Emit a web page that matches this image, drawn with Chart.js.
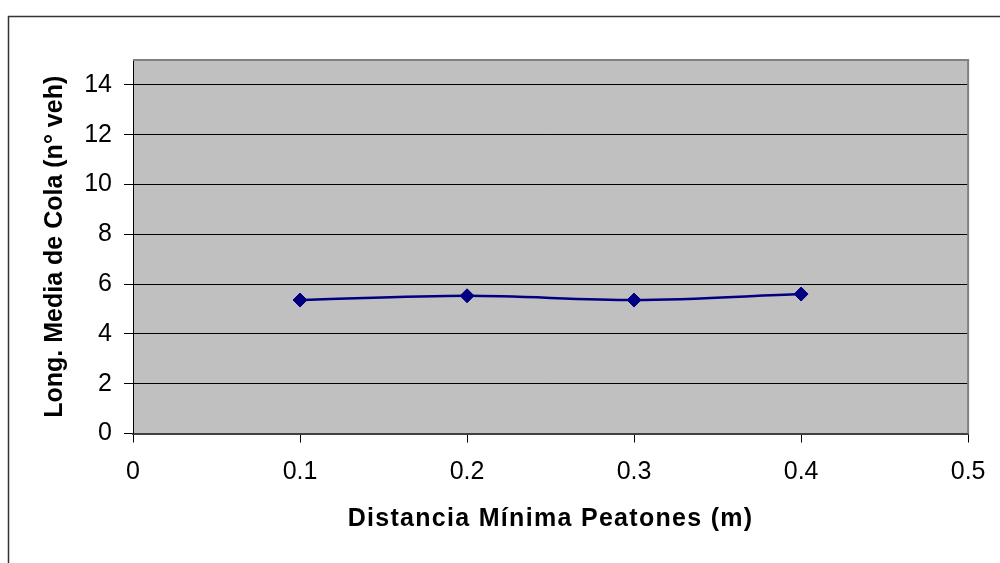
<!DOCTYPE html>
<html>
<head>
<meta charset="utf-8">
<script src="https://cdn.jsdelivr.net/npm/chart.js@4/dist/chart.umd.min.js"></script>
<style>
html,body{margin:0;padding:0;background:#fff;}
canvas{display:block;}
</style>
</head>
<body>
<canvas id="c" width="1000" height="563"></canvas>
<script>
const distances = [0.1, 0.2, 0.3, 0.4];
const queueLength = [5.36, 5.53, 5.36, 5.60];
const yTickValues = [0, 2, 4, 6, 8, 10, 12, 14];
const xTickValues = [0, 0.1, 0.2, 0.3, 0.4, 0.5];
const xTitle = 'Distancia Mínima Peatones (m)';
const yTitle = 'Long. Media de Cola (n° veh)';

const FONT = "'Liberation Sans', Arial, sans-serif";

const frame = {
  id: 'frame',
  beforeDraw(chart) {
    const ctx = chart.ctx, a = chart.chartArea;
    ctx.save();
    ctx.fillStyle = '#fff';
    ctx.fillRect(0, 0, chart.width, chart.height);
    ctx.strokeStyle = '#333';
    ctx.lineWidth = 1.5;
    ctx.strokeRect(8.5, 16.5, 1100, 700);
    ctx.fillStyle = '#C0C0C0';
    ctx.fillRect(a.left, a.top, a.right - a.left, a.bottom - a.top);
    ctx.restore();
  },
  beforeDatasetsDraw(chart) {
    const ctx = chart.ctx, a = chart.chartArea;
    ctx.save();
    ctx.strokeStyle = '#808080';
    ctx.lineWidth = 2;
    ctx.beginPath();
    ctx.moveTo(a.left, a.top);
    ctx.lineTo(a.right, a.top);
    ctx.lineTo(a.right, a.bottom);
    ctx.stroke();
    ctx.restore();
  },
  afterLayout(chart) {
    const s = chart.scales.x;
    if (s && !s._patchedTitle) {
      const orig = s.drawTitle.bind(s);
      s.drawTitle = function () {
        const ctx = this.ctx;
        const prev = ctx.letterSpacing;
        ctx.letterSpacing = '1.3px';
        orig();
        ctx.letterSpacing = prev || '0px';
      };
      s._patchedTitle = true;
    }
  }
};

new Chart(document.getElementById('c'), {
  type: 'line',
  data: {
    datasets: [{
      data: distances.map((d, i) => ({x: d, y: queueLength[i]})),
      borderColor: '#000080',
      backgroundColor: '#000080',
      borderWidth: 2.5,
      pointStyle: 'rectRot',
      pointRadius: 7,
      pointBorderWidth: 1,
      pointBorderColor: '#000080',
      pointBackgroundColor: '#000080',
      cubicInterpolationMode: 'monotone',
      fill: false
    }]
  },
  options: {
    responsive: false,
    animation: false,
    devicePixelRatio: 1,
    layout: {padding: {left: 40, top: 60, right: 29, bottom: 29}},
    plugins: {legend: {display: false}, tooltip: {enabled: false}},
    scales: {
      x: {
        type: 'linear',
        min: 0, max: 0.5,
        afterFit(axis) { axis.height = 100.5; },
        afterBuildTicks(axis) { axis.ticks = xTickValues.map(v => ({value: v})); },
        ticks: {color: '#000', font: {family: FONT, size: 25}, padding: 14.5, maxRotation: 0,
                callback: v => String(Math.round(v * 10) / 10)},
        grid: {drawOnChartArea: false, drawTicks: true, tickLength: 9, color: '#000', lineWidth: 1},
        border: {color: '#404040', width: 2},
        title: {display: true, text: xTitle, color: '#000', font: {family: FONT, size: 25, weight: 'bold'}, padding: 0}
      },
      y: {
        min: 0, max: 15,
        afterFit(axis) { axis.width = 93; },
        afterBuildTicks(axis) { axis.ticks = yTickValues.map(v => ({value: v})); },
        ticks: {color: '#000', font: {family: FONT, size: 25}, padding: 12, callback: v => String(v)},
        grid: {color: '#000', lineWidth: 1, tickLength: 9, tickColor: '#000'},
        border: {color: '#000', width: 1},
        title: {display: true, text: yTitle, color: '#000', font: {family: FONT, size: 25, weight: 'bold'}, padding: 0}
      }
    }
  },
  plugins: [frame]
});
</script>
</body>
</html>
